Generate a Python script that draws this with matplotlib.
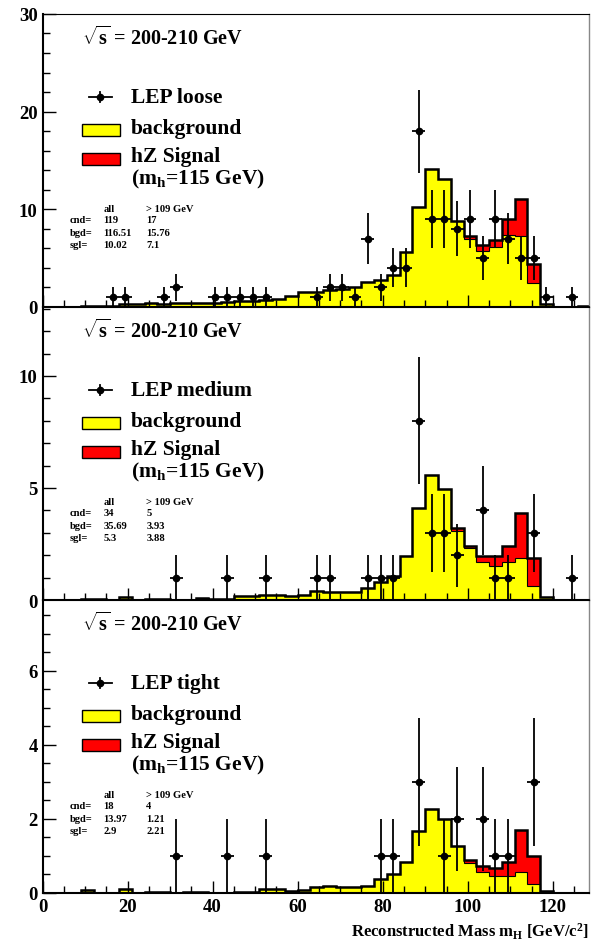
import numpy as np
import matplotlib.pyplot as plt
from matplotlib.ticker import MultipleLocator
from matplotlib.patches import Rectangle
from matplotlib.lines import Line2D

plt.rcParams['font.family'] = ['Liberation Serif', 'DejaVu Serif']
plt.rcParams['font.weight'] = 'bold'
plt.rcParams['axes.labelweight'] = 'bold'
plt.rcParams['mathtext.fontset'] = 'custom'
plt.rcParams['mathtext.rm'] = 'Liberation Serif:bold'
plt.rcParams['mathtext.it'] = 'Liberation Serif:italic:bold'
plt.rcParams['mathtext.bf'] = 'Liberation Serif:bold'

# 3 GeV bins from 0 to 129
edges = np.arange(0, 130, 3)
centers = edges[:-1] + 1.5

# loose selection
bgd_loose = [0, 0, 0, 0.15, 0.15, 0.15, 0.3, 0.3, 0.4, 0.35, 0.4, 0.4, 0.45, 0.45, 0.5,
             0.65, 0.65, 0.7, 0.8, 1.1, 1.5, 1.5, 1.78, 1.8, 2.0, 2.6, 2.77, 3.28, 5.6,
             10.2, 14.15, 13.06, 8.8, 6.97, 5.7, 6.1, 7.4, 7.25, 2.46, 0.35, 0, 0, 0.08]
sgl_loose = [0] * 33 + [0.28, 0.6, 0.74, 1.6, 3.83, 1.94, 0, 0, 0, 0]
data_loose = [0, 0, 0, 0, 0, 1, 1, 0, 0, 1, 2, 0, 0, 1, 1, 1, 1, 1, 0, 0, 0, 1,
              2, 2, 1, 7, 2, 4, 4, 18, 9, 9, 8, 9, 5, 9, 7, 5, 5, 1, 0, 1, 0]

# medium selection
bgd_medium = [0, 0, 0, 0.05, 0.05, 0, 0.12, 0, 0.05, 0.05, 0, 0, 0.1, 0.05, 0.05,
              0.16, 0.16, 0.22, 0.22, 0.19, 0.22, 0.39, 0.34, 0.34, 0.34, 0.52, 0.79,
              1.06, 1.98, 4.09, 5.6, 4.96, 3.1, 2.31, 1.71, 1.53, 1.71, 1.86, 0.64,
              0.15, 0, 0, 0]
sgl_medium = [0] * 32 + [0.1, 0.12, 0.24, 0.42, 0.69, 2.01, 1.22, 0, 0, 0, 0]
data_medium = [0, 0, 0, 0, 0, 0, 0, 0, 0, 0, 1, 0, 0, 0, 1, 0, 0, 1, 0, 0, 0, 1,
               1, 0, 0, 1, 1, 1, 0, 8, 3, 3, 2, 0, 4, 1, 1, 0, 3, 0, 0, 1, 0]

# tight selection
bgd_tight = [0, 0, 0, 0.08, 0, 0, 0.12, 0, 0.02, 0.02, 0, 0.03, 0.03, 0, 0, 0.02,
             0.02, 0.1, 0.1, 0.06, 0.09, 0.15, 0.2, 0.15, 0.15, 0.2, 0.38, 0.51, 0.85,
             1.68, 2.27, 2.0, 1.26, 0.81, 0.58, 0.45, 0.45, 0.58, 0.24, 0.04, 0, 0, 0]
sgl_tight = [0] * 33 + [0.09, 0.14, 0.22, 0.4, 1.12, 0.77, 0, 0, 0, 0]
data_tight = [0, 0, 0, 0, 0, 0, 0, 0, 0, 0, 1, 0, 0, 0, 1, 0, 0, 1, 0, 0, 0, 0,
              0, 0, 0, 0, 1, 1, 0, 3, 0, 1, 2, 0, 2, 1, 1, 0, 3, 0, 0, 0, 0]

labels = ['LEP loose', 'LEP medium', 'LEP tight']
stats = [('119', '17', '116.51', '15.76', '10.02', '7.1'),
         ('34', '5', '35.69', '3.93', '5.3', '3.88'),
         ('18', '4', '13.97', '1.21', '2.9', '2.21')]
ylims = [30, 13.08, 7.92]
majors = [10, 5, 2]
minors = [2, 1, 0.5]

fig = plt.figure(figsize=(5.92, 9.45), dpi=100)
bottoms = [0.6741, 0.3640, 0.0540]
axes = [fig.add_axes([0.0718, b, 0.9231, 0.3101]) for b in bottoms]

panels = [(bgd_loose, sgl_loose, data_loose),
          (bgd_medium, sgl_medium, data_medium),
          (bgd_tight, sgl_tight, data_tight)]

for k, ax in enumerate(axes):
    bgd, sgl, data = [np.array(a, dtype=float) for a in panels[k]]
    tot = bgd + sgl
    ax.stairs(bgd, edges, fill=True, color='#ffff00', zorder=1)
    ax.stairs(tot, edges, baseline=bgd, fill=True, color='#ff0000', zorder=1)
    ax.stairs(bgd, edges, color='black', lw=0.8, zorder=2)
    ax.stairs(tot, edges, color='black', lw=1.8, zorder=2)

    m = data > 0
    ax.errorbar(centers[m], data[m], yerr=np.sqrt(data[m]), xerr=1.5, fmt='o',
                color='black', ms=4.5, elinewidth=1.3, capsize=0, zorder=3)

    ax.set_xlim(0, 128.5)
    ax.set_ylim(0, ylims[k])
    ax.yaxis.set_major_locator(MultipleLocator(majors[k]))
    ax.yaxis.set_minor_locator(MultipleLocator(minors[k]))
    ax.xaxis.set_major_locator(MultipleLocator(20))
    ax.xaxis.set_minor_locator(MultipleLocator(5))
    ax.tick_params(which='both', direction='in', top=False, right=False,
                   labelsize=13.5, width=1)
    ax.tick_params(which='major', length=9)
    ax.tick_params(which='minor', length=5)
    for lab in ax.get_yticklabels() + ax.get_xticklabels():
        lab.set_fontweight('bold')
    if k < 2:
        ax.tick_params(labelbottom=False)
    ax.spines['left'].set_linewidth(1.5)
    ax.spines['bottom'].set_linewidth(1.5)
    ax.spines['right'].set_color('#888888')
    ax.spines['right'].set_linewidth(1)

    tr = ax.transAxes
    ax.text(0.072, 0.92, r'$\sqrt{\rm s}$ = 200-210 GeV', transform=tr,
            fontsize=14.5, va='center', ha='left', fontweight='bold')
    # legend
    ax.add_line(Line2D([0.085, 0.127], [0.717, 0.717], transform=tr, color='black', lw=1.3))
    ax.add_line(Line2D([0.106, 0.106], [0.70, 0.734], transform=tr, color='black', lw=1.3))
    ax.plot([0.106], [0.717], 'o', color='black', ms=4.5, transform=tr)
    ax.text(0.162, 0.717, labels[k], transform=tr, fontsize=15.5, va='center',
            fontweight='bold')
    ax.add_patch(Rectangle((0.072, 0.585), 0.07, 0.04, transform=tr,
                           facecolor='#ffff00', edgecolor='black', lw=1))
    ax.text(0.162, 0.612, 'background', transform=tr, fontsize=15.5, va='center',
            fontweight='bold')
    ax.add_patch(Rectangle((0.072, 0.486), 0.07, 0.039, transform=tr,
                           facecolor='#ff0000', edgecolor='black', lw=1))
    ax.text(0.162, 0.514, 'hZ Signal', transform=tr, fontsize=15.5, va='center',
            fontweight='bold')
    ax.text(0.162, 0.437, r'(m$_{\rm h}$=115 GeV)', transform=tr, fontsize=15.5,
            va='center', fontweight='bold')
    # event counts
    s = stats[k]
    fs = 7.6
    ax.text(0.111, 0.336, 'all', transform=tr, fontsize=fs, va='center', fontweight='bold')
    ax.text(0.19, 0.336, '> 109 GeV', transform=tr, fontsize=fs, va='center',
            fontweight='bold')
    rows = [('cnd=', s[0], s[1]), ('bgd=', s[2], s[3]), ('sgl=', s[4], s[5])]
    for j, (name, a, b) in enumerate(rows):
        y = 0.297 - j * 0.0425
        for xx, t in ((0.05, name), (0.111, a), (0.19, b)):
            ax.text(xx, y, t, transform=tr, fontsize=fs, va='center', fontweight='bold')

axes[2].set_xlabel(r'Reconstructed Mass m$_{\rm H}$ [GeV/c$^{\rm 2}$]',
                   loc='right', fontsize=12, labelpad=4, fontweight='bold')

plt.savefig('out.png', dpi=100)
